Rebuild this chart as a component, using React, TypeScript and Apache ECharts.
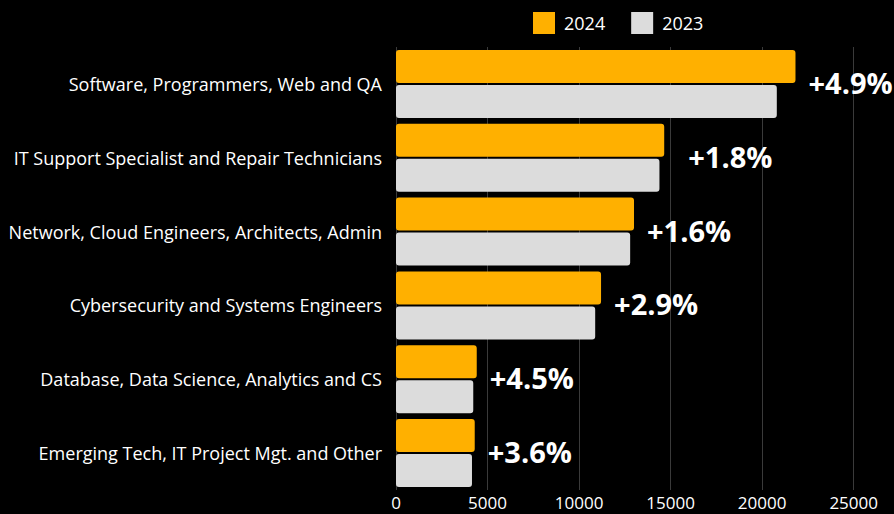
import React, { useEffect, useRef } from "react";
import * as echarts from "echarts";

const categories = [
  "Software, Programmers, Web and QA",
  "IT Support Specialist and Repair Technicians",
  "Network, Cloud Engineers, Architects, Admin",
  "Cybersecurity and Systems Engineers",
  "Database, Data Science, Analytics and CS",
  "Emerging Tech, IT Project Mgt. and Other",
];
const values2024 = [21820, 14650, 13000, 11200, 4410, 4300];
const values2023 = [20800, 14390, 12790, 10880, 4220, 4150];
const growthLabels = ["+4.9%", "+1.8%", "+1.6%", "+2.9%", "+4.5%", "+3.6%"];
const xTicks = [0, 5000, 10000, 15000, 20000, 25000];

const FONT = "'Open Sans', sans-serif";

export default function App() {
  const ref = useRef<HTMLDivElement>(null);
  useEffect(() => {
    document.body.style.margin = "0";
    document.body.style.background = "#000";
    const chart = echarts.init(ref.current!, null, { renderer: "svg" });
    chart.setOption({
      animation: false,
      backgroundColor: "#000000",
      textStyle: { fontFamily: FONT },
      legend: {
        top: 7,
        left: 528,
        itemWidth: 22,
        itemHeight: 22,
        itemGap: 26,
        icon: "rect",
        data: ["2024", "2023"],
        textStyle: { color: "#ffffff", fontSize: 18, fontFamily: FONT, padding: [0, 0, 0, 4] },
      },
      grid: { left: 396, right: 894 - 853.7, top: 47, bottom: 24, containLabel: false },
      xAxis: {
        type: "value",
        min: xTicks[0],
        max: xTicks[xTicks.length - 1],
        interval: 5000,
        axisLine: { show: false },
        axisTick: { show: false },
        splitLine: { show: true, lineStyle: { color: "#3a3a3a", width: 1 } },
        axisLabel: {
          color: "#ffffff",
          fontSize: 17,
          margin: 4,
          fontFamily: FONT,
          formatter: (v: number) => String(v),
        },
      },
      yAxis: {
        type: "category",
        data: categories,
        inverse: true,
        axisLine: { show: false },
        axisTick: { show: false },
        axisLabel: { color: "#ffffff", fontSize: 18, margin: 14, fontFamily: FONT },
      },
      series: [
        {
          name: "2024",
          type: "bar",
          data: values2024.map((v, i) => ({
            value: v,
            label: { offset: [i === 1 ? 11 : 0, 16] },
          })),
          barWidth: 33,
          barGap: "6%",
          barCategoryGap: "8%",
          itemStyle: { color: "#FFB000", borderRadius: 3 },
          label: {
            show: true,
            position: "right",
            distance: 13,
            color: "#ffffff",
            fontSize: 29,
            fontWeight: "bold",
            fontFamily: FONT,
            formatter: (p: any) => growthLabels[p.dataIndex],
          },
        },
        {
          name: "2023",
          type: "bar",
          data: values2023,
          barWidth: 33,
          barGap: "6%",
          barCategoryGap: "8%",
          itemStyle: { color: "#DCDCDC", borderRadius: 3 },
        },
      ],
    });
    return () => chart.dispose();
  }, []);
  return <div ref={ref} style={{ width: 894, height: 514 }} />;
}
